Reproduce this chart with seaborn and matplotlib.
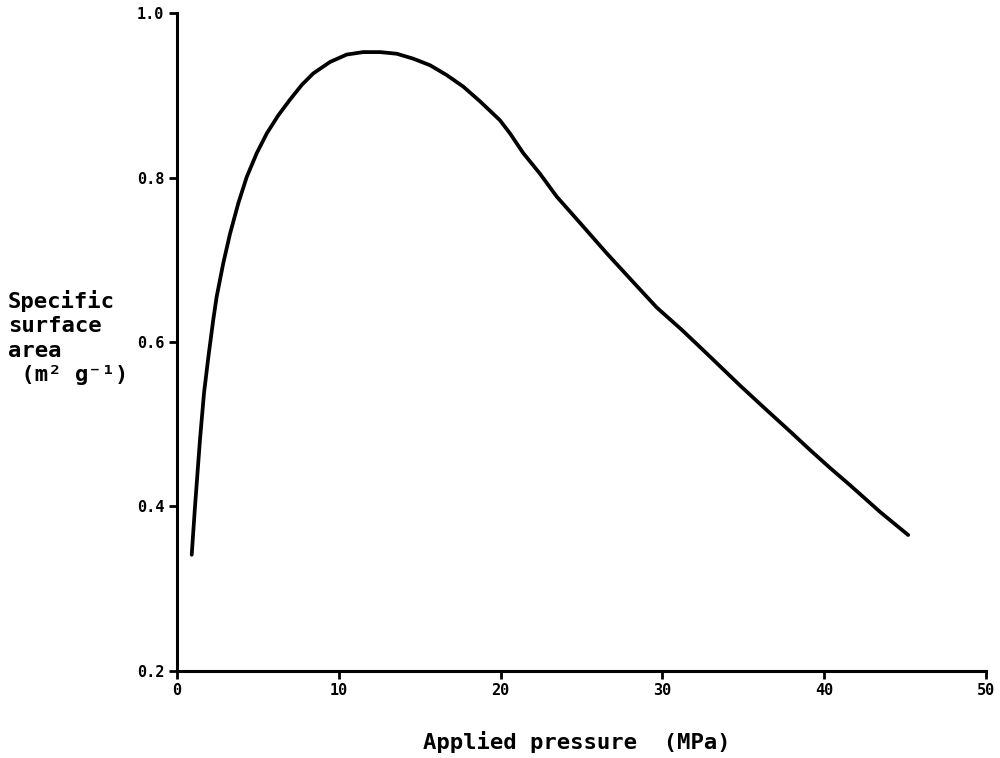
import numpy as np
import pandas as pd
import seaborn as sns
import matplotlib.pyplot as plt

# curve
pressure = [0.91, 1.11, 1.42, 1.67, 1.94, 2.24, 2.45, 2.86, 3.28, 3.79, 4.31, 4.93,
            5.55, 6.26, 6.98, 7.71, 8.42, 9.46, 10.49, 11.51, 12.55, 13.58, 14.6,
            15.64, 16.67, 17.69, 18.73, 19.96, 20.58, 21.40, 22.43, 23.47, 24.91,
            26.56, 28.10, 29.65, 31.19, 32.74, 34.80, 36.45, 37.9, 39.1, 40.4,
            41.58, 43.46, 45.19]
area = [0.341, 0.399, 0.481, 0.538, 0.582, 0.627, 0.655, 0.696, 0.732, 0.769, 0.801, 0.830,
        0.854, 0.876, 0.895, 0.913, 0.927, 0.941, 0.950, 0.953, 0.953, 0.951, 0.945,
        0.937, 0.925, 0.911, 0.893, 0.870, 0.854, 0.830, 0.805, 0.777, 0.745,
        0.708, 0.675, 0.642, 0.615, 0.586, 0.547, 0.517, 0.491, 0.469, 0.446,
        0.426, 0.393, 0.365]
xticks = [0, 10, 20, 30, 40, 50]
yticks = [0.2, 0.4, 0.6, 0.8, 1.0]

df = pd.DataFrame({'pressure': pressure, 'area': area})

sns.set_style('ticks')
plt.rcParams['font.family'] = ['DejaVu Sans Mono', 'DejaVu Sans']
plt.rcParams['font.weight'] = 'bold'
plt.rcParams['text.color'] = 'black'

fig = plt.figure(figsize=(10, 7.58), dpi=100)
ax = fig.add_axes([0.177, 0.1154, 0.809, 0.8668])

sns.lineplot(data=df, x='pressure', y='area', color='black', linewidth=2.7, ax=ax,
             solid_joinstyle='round', solid_capstyle='round')

ax.set_xlim(0, 50)
ax.set_ylim(0.2, 1.0)
ax.set_xticks(xticks)
ax.set_xticklabels([str(t) for t in xticks], fontsize=11, fontweight='bold')
ax.set_yticks(yticks)
ax.set_yticklabels(['%.1f' % t for t in yticks], fontsize=11, fontweight='bold')
ax.tick_params(direction='out', length=6, width=2, colors='black', pad=3)
ax.set_xlabel('')
ax.set_ylabel('')
sns.despine(ax=ax)
for s in ['left', 'bottom']:
    ax.spines[s].set_linewidth(2.2)
    ax.spines[s].set_color('black')

fig.text(0.008, 1 - 290 / 758, 'Specific\nsurface\narea\n (m\u00b2 g\u207b\u00b9)',
         fontsize=16, fontweight='bold', va='top', ha='left', linespacing=1.28,
         color='black')
fig.text(0.577, 1 - 742 / 758, 'Applied pressure  (MPa)',
         fontsize=16, fontweight='bold', va='center', ha='center', color='black')

fig.savefig('out.png', dpi=100, facecolor='white')
